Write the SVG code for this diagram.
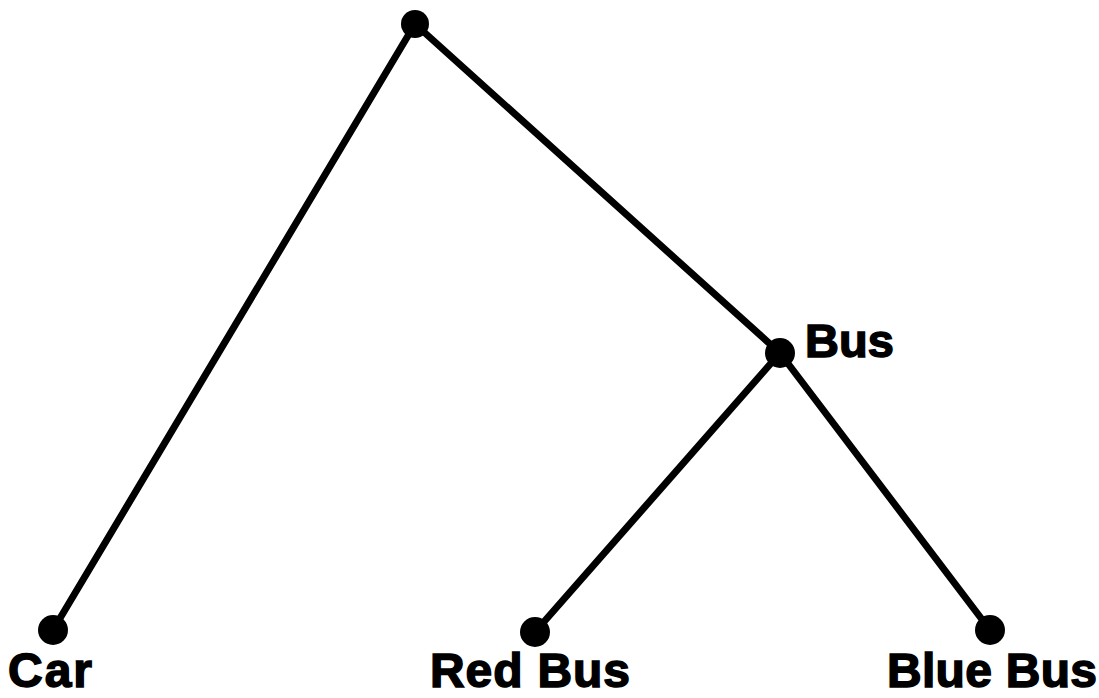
<svg xmlns="http://www.w3.org/2000/svg" width="1099" height="698" viewBox="0 0 1099 698">
<style>
.edge{stroke:#000;stroke-width:7;stroke-linecap:round;fill:none}
.node{fill:#000}
.lbl{font-family:"Liberation Sans",Arial,sans-serif;font-weight:bold;font-size:48px;fill:#000;stroke:#000;stroke-width:1.5}
</style>
<rect width="1099" height="698" fill="#fff"/>
<g id="connectors">
<line class="edge" x1="415" y1="24" x2="53" y2="630"/>
<line class="edge" x1="415" y1="24" x2="780" y2="353"/>
<line class="edge" x1="780" y1="353" x2="535" y2="632"/>
<line class="edge" x1="780" y1="353" x2="990" y2="630"/>
</g>
<g id="root"><circle class="node" cx="415" cy="24" r="14"/></g>
<g id="bus"><circle class="node" cx="780" cy="353" r="15"/><text class="lbl" x="805" y="357" style="font-size:47px">Bus</text></g>
<g id="car"><circle class="node" cx="53" cy="630" r="15"/><text class="lbl" x="8" y="687" textLength="84">Car</text></g>
<g id="redbus"><circle class="node" cx="535" cy="632" r="15"/><text class="lbl" x="430" y="687" textLength="200">Red Bus</text></g>
<g id="bluebus"><circle class="node" cx="990" cy="630" r="15"/><text class="lbl" x="887" y="687" textLength="210">Blue Bus</text></g>
</svg>
